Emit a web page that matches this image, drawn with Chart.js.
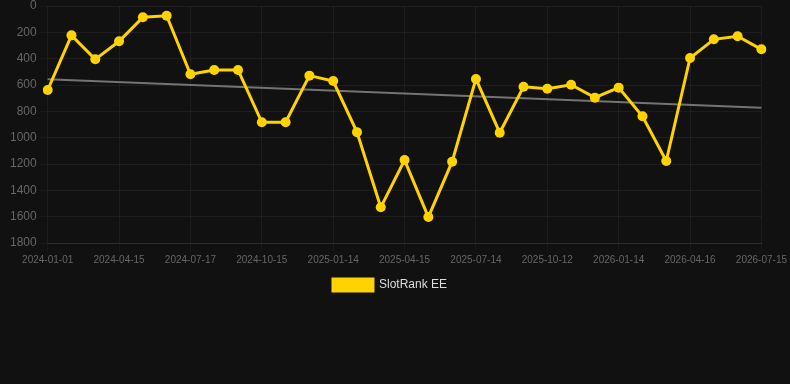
<!DOCTYPE html>
<html>
<head>
<meta charset="utf-8">
<script src="https://cdn.jsdelivr.net/npm/chart.js@4"></script>
<style>
  html, body { margin: 0; padding: 0; background: #111111; }
  #wrap { width: 790px; height: 301px; position: relative; }
</style>
</head>
<body>
<div id="wrap"><canvas id="rankChart"></canvas></div>
<script>
const dates = [
  '2024-01-01', '2024-02-05', '2024-03-10', '2024-04-15', '2024-05-16', '2024-06-15',
  '2024-07-17', '2024-08-16', '2024-09-15', '2024-10-15', '2024-11-14', '2024-12-14',
  '2025-01-14', '2025-02-13', '2025-03-15', '2025-04-15', '2025-05-15', '2025-06-14',
  '2025-07-14', '2025-08-13', '2025-09-12', '2025-10-12', '2025-11-11', '2025-12-13',
  '2026-01-14', '2026-02-13', '2026-03-15', '2026-04-16', '2026-05-16', '2026-06-15',
  '2026-07-15'
];
const rank = [
  638, 223, 405, 268, 86, 74,
  519, 486, 486, 883, 883, 529,
  570, 958, 1529, 1170, 1603, 1182,
  554, 962, 613, 628, 598, 696,
  620, 838, 1177, 395, 253, 230,
  329
];
// trend line: only the two ends, gap spanned
const trendStart = 557;
const trendEnd = 772;
const yTicks = [0, 200, 400, 600, 800, 1000, 1200, 1400, 1600, 1800];

const trend = dates.map((d, i) => i === 0 ? trendStart : (i === dates.length - 1 ? trendEnd : null));

const font = 'Arial, "Liberation Sans", sans-serif';
const ctx = document.getElementById('rankChart');

new Chart(ctx, {
  type: 'line',
  data: {
    labels: dates,
    datasets: [{
      label: 'SlotRank EE',
      data: rank,
      borderColor: '#ffd300',
      backgroundColor: '#ffd300',
      borderWidth: 3,
      pointRadius: 5,
      pointBackgroundColor: '#ffd300',
      pointBorderWidth: 0,
      tension: 0
    }, {
      label: 'trend',
      data: trend,
      spanGaps: true,
      borderColor: '#747474',
      borderWidth: 2,
      pointRadius: 0,
      tension: 0
    }]
  },
  options: {
    responsive: true,
    maintainAspectRatio: false,
    animation: false,
    layout: { padding: { left: 7, right: 17, top: 0, bottom: 0 } },
    scales: {
      x: {
        grid: { color: 'rgba(255,255,255,0.05)', tickColor: 'rgba(255,255,255,0.03)' },
        border: { color: 'rgba(255,255,255,0.08)' },
        ticks: {
          color: '#666666',
          font: { family: font, size: 10 },
          autoSkip: false,
          maxRotation: 0,
          callback: function (v, i) { return i % 3 === 0 ? this.getLabelForValue(v) : null; }
        }
      },
      y: {
        reverse: true,
        min: 0,
        max: 1800,
        afterBuildTicks: axis => { axis.ticks = yTicks.map(v => ({ value: v })); },
        grid: { color: 'rgba(255,255,255,0.05)', tickColor: 'rgba(255,255,255,0.03)' },
        border: { display: false },
        ticks: {
          color: '#666666',
          font: { family: font, size: 12, lineHeight: 0.5 },
          callback: v => String(v)
        }
      }
    },
    plugins: {
      legend: {
        position: 'bottom',
        labels: {
          color: '#dddddd',
          boxWidth: 40,
          boxHeight: 12,
          font: { family: font, size: 12 },
          filter: item => item.text !== 'trend'
        }
      },
      tooltip: { enabled: false }
    }
  }
});
</script>
</body>
</html>
